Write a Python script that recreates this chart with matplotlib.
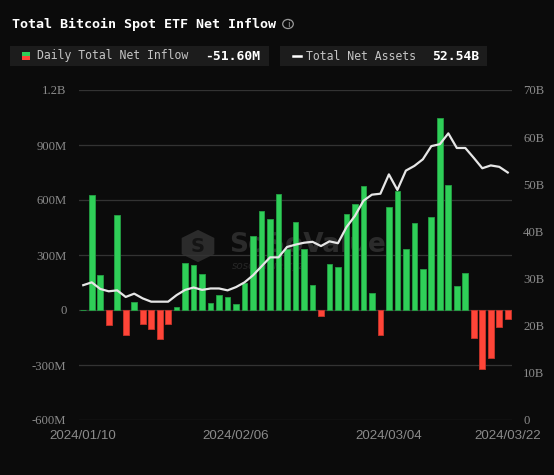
import matplotlib
matplotlib.use("Agg")
import matplotlib.pyplot as plt
from matplotlib.patches import Rectangle, Circle, RegularPolygon
import numpy as np

# ---------------- data ----------------
dates = ["2024/01/10", "2024/01/11", "2024/01/12", "2024/01/16", "2024/01/17", "2024/01/18",
         "2024/01/19", "2024/01/22", "2024/01/23", "2024/01/24", "2024/01/25", "2024/01/26",
         "2024/01/29", "2024/01/30", "2024/01/31", "2024/02/01", "2024/02/02", "2024/02/05",
         "2024/02/06", "2024/02/07", "2024/02/08", "2024/02/09", "2024/02/12", "2024/02/13",
         "2024/02/14", "2024/02/15", "2024/02/16", "2024/02/20", "2024/02/21", "2024/02/22",
         "2024/02/23", "2024/02/26", "2024/02/27", "2024/02/28", "2024/02/29", "2024/03/01",
         "2024/03/04", "2024/03/05", "2024/03/06", "2024/03/07", "2024/03/08", "2024/03/11",
         "2024/03/12", "2024/03/13", "2024/03/14", "2024/03/15", "2024/03/18", "2024/03/19",
         "2024/03/20", "2024/03/21", "2024/03/22"]

# Daily total net inflow, millions USD
daily_inflow = [0, 627, 191, -82, 518, -136, 42, -78, -105, -158, -78, 15,
                256, 247, 198, 38, 80, 70, 35, 145, 405, 542, 494, 633,
                333, 478, 333, 136, -35, 251, 233, 522, 578, 674, 93, -138,
                563, 649, 331, 473, 224, 505, 1045, 684, 133, 200, -155, -324,
                -260, -93, -51.6]

# Total net assets, billions USD
net_assets = [28.6, 29.2, 27.8, 27.3, 27.5, 26.1, 26.8, 25.8, 25.1, 25.1,
              25.1, 26.5, 27.6, 28.1, 27.6, 27.9, 27.9, 27.5, 28.2, 29.2,
              30.7, 32.6, 34.5, 34.5, 36.7, 37.2, 37.6, 37.8, 36.9, 37.9,
              37.5, 40.9, 43.3, 46.5, 47.8, 48.0, 52.1, 48.8, 52.9, 53.9,
              55.3, 58.1, 58.5, 60.8, 57.7, 57.7, 55.6, 53.4, 54.0, 53.7, 52.5]

left_ticks = [-600, -300, 0, 300, 600, 900, 1200]
left_labels = ["-600M", "-300M", "0", "300M", "600M", "900M", "1.2B"]
right_ticks = [0, 10, 20, 30, 40, 50, 60, 70]
right_labels = ["0", "10B", "20B", "30B", "40B", "50B", "60B", "70B"]
xtick_labels = ["2024/01/10", "2024/02/06", "2024/03/04", "2024/03/22"]

title = "Total Bitcoin Spot ETF Net Inflow"
legend1 = "Daily Total Net Inflow"
legend1_val = "-51.60M"
legend2 = "Total Net Assets"
legend2_val = "52.54B"

# ---------------- style ----------------
BG = "#0b0b0b"
GREEN = "#2fcf58"
RED = "#ff4538"
GRID = "#333333"
TICK = "#8a8a8a"
W, H = 554, 475

fig = plt.figure(figsize=(W / 100, H / 100), dpi=100, facecolor=BG)


def fx(px):
    return px / W


def fy(py):
    return 1 - py / H


ax = fig.add_axes([fx(79), fy(420), fx(512) - fx(79), fy(90) - fy(420)])
ax.set_facecolor("none")
ax2 = ax.twinx()
ax2.set_facecolor("none")

x = np.arange(len(dates))
colors = [GREEN if v >= 0 else RED for v in daily_inflow]
edges = ["#23a043" if v >= 0 else "#c9342a" for v in daily_inflow]
ax.bar(x, daily_inflow, width=0.67, color=colors, edgecolor=edges, linewidth=0.6, zorder=3)

ax.set_xlim(-0.5, len(dates) - 0.5)
ax.set_ylim(-600, 1200)
ax.set_yticks(left_ticks)
ax.set_yticklabels(left_labels)
for t in left_ticks:
    ax.axhline(t, color=GRID, linewidth=0.9, zorder=1)

ax2.plot(x, net_assets, color="#e6e6e6", linewidth=1.6, zorder=5, solid_joinstyle="round")
ax2.set_ylim(0, 70)
ax2.set_yticks(right_ticks)
ax2.set_yticklabels(right_labels)

tick_idx = [dates.index(d) for d in xtick_labels]
ax.set_xticks(tick_idx)
ax.set_xticklabels(xtick_labels)

for a in (ax, ax2):
    for s in a.spines.values():
        s.set_visible(False)
    a.tick_params(length=0)

ax.tick_params(axis="y", colors=TICK, pad=9)
ax2.tick_params(axis="y", colors=TICK, pad=8)
ax.tick_params(axis="x", colors=TICK, pad=7)
for lab in ax.get_yticklabels() + ax2.get_yticklabels():
    lab.set_fontfamily("Liberation Serif")
    lab.set_fontsize(9.2)
for lab in ax.get_xticklabels():
    lab.set_fontfamily("Liberation Sans")
    lab.set_fontsize(9.6)

# watermark
ax.add_patch(RegularPolygon((fx(198), fy(246)), 6, radius=0.034, orientation=0,
                            transform=fig.transFigure, facecolor="#2b2b2b",
                            edgecolor="none", zorder=0.5))
ax.text(fx(198), fy(246), "S", transform=fig.transFigure, color="#141414",
        fontsize=14, fontweight="bold", ha="center", va="center", zorder=0.6)
ax.text(fx(229), fy(245), "SoSoValue", transform=fig.transFigure, color="#2b2b2b",
        fontsize=19, fontweight="bold", ha="left", va="center", family="DejaVu Sans",
        zorder=0.5)
ax.text(fx(232), fy(266), "sosovalue.xyz", transform=fig.transFigure, color="#262626",
        fontsize=7.5, style="italic", ha="left", va="center", family="DejaVu Sans",
        zorder=0.5)

# title
MONO = "DejaVu Sans Mono"
fig.text(fx(12), fy(24), title, color="white", fontsize=9.6, fontweight="bold",
         family=MONO, ha="left", va="center")
fig.patches.append(Circle((fx(288), fy(24)), radius=5.3 / W, transform=fig.transFigure,
                          facecolor="none", edgecolor="#9a9a9a", linewidth=0.9))
fig.text(fx(288), fy(24.5), "i", color="#9a9a9a", fontsize=6.5, family="DejaVu Sans",
         ha="center", va="center")

# legend boxes
fig.patches.append(Rectangle((fx(10), fy(66)), fx(269) - fx(10), fy(46) - fy(66),
                             transform=fig.transFigure, facecolor="#1c1c1c", edgecolor="none"))
fig.patches.append(Rectangle((fx(280), fy(66)), fx(487) - fx(280), fy(46) - fy(66),
                             transform=fig.transFigure, facecolor="#1c1c1c", edgecolor="none"))
fig.patches.append(Rectangle((fx(22), fy(56)), fx(7.5), fy(52) - fy(56),
                             transform=fig.transFigure, facecolor=GREEN, edgecolor="none"))
fig.patches.append(Rectangle((fx(22), fy(60)), fx(7.5), fy(56) - fy(60),
                             transform=fig.transFigure, facecolor=RED, edgecolor="none"))
fig.text(fx(37), fy(56), legend1, color="#c4c4c4", fontsize=8.3, family=MONO,
         ha="left", va="center")
fig.text(fx(205), fy(56), legend1_val, color="white", fontsize=9.4, fontweight="bold",
         family=MONO, ha="left", va="center")
fig.lines.append(plt.Line2D([fx(293), fx(301)], [fy(56), fy(56)], transform=fig.transFigure,
                            color="white", linewidth=1.8))
fig.text(fx(306.5), fy(56), legend2, color="#c4c4c4", fontsize=8.3, family=MONO,
         ha="left", va="center")
fig.text(fx(432.5), fy(56), legend2_val, color="white", fontsize=9.4, fontweight="bold",
         family=MONO, ha="left", va="center")

fig.savefig("out.png", dpi=100, facecolor=BG)
